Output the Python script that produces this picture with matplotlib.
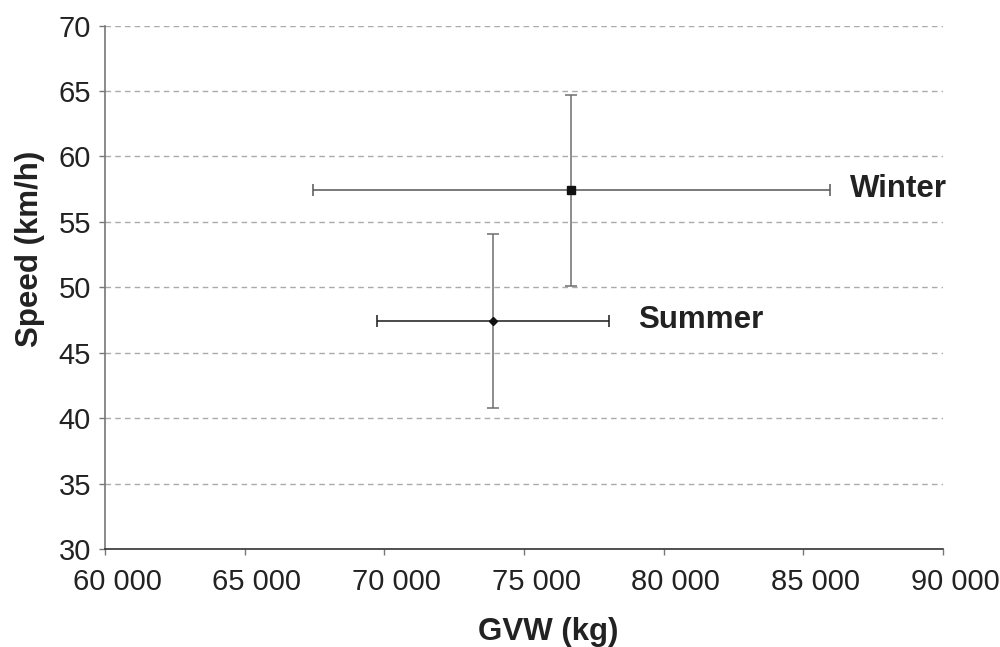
import matplotlib
matplotlib.use('Agg')
import matplotlib.pyplot as plt
from matplotlib.ticker import FuncFormatter
from matplotlib.transforms import ScaledTranslation

plt.rcParams['font.family'] = ['Liberation Sans', 'DejaVu Sans']

# season, mean GVW (kg), GVW spread, mean speed (km/h), speed spread
seasons = ['Winter', 'Summer']
gvw = [76700, 73900]
gvw_err = [9250, 4150]
speed = [57.4, 47.4]
speed_err = [7.3, 6.65]
markers = ['s', 'D']
marker_sizes = [6, 4.5]
h_colors = ['#555555', '#1a1a1a']

fig = plt.figure(figsize=(10, 6.47), dpi=100)
ax = fig.add_axes([0.105, 0.1515, 0.838, 0.8089])

for i, name in enumerate(seasons):
    # vertical bar grey, horizontal one as in the source chart
    ax.errorbar(gvw[i], speed[i], yerr=speed_err[i], fmt='none',
                ecolor='#6e6e6e', elinewidth=1.1, capsize=4, capthick=1.1)
    ax.errorbar(gvw[i], speed[i], xerr=gvw_err[i], fmt='none',
                ecolor=h_colors[i], elinewidth=1.1, capsize=4, capthick=1.1)
    ax.plot(gvw[i], speed[i], marker=markers[i], ms=marker_sizes[i],
            color='#111111', linestyle='none')

ax.text(gvw[0] + gvw_err[0] + 720, speed[0] - 0.48, seasons[0],
        fontsize=22.5, fontweight='bold', color='#222222', va='baseline')
ax.text(gvw[1] + gvw_err[1] + 1030, speed[1] - 0.5, seasons[1],
        fontsize=22.5, fontweight='bold', color='#222222', va='baseline')

ax.set_xlim(60000, 90000)
ax.set_ylim(30, 70)
ax.set_xticks(range(60000, 90001, 5000))
ax.set_yticks(range(30, 71, 5))
ax.xaxis.set_major_formatter(FuncFormatter(lambda v, p: f'{int(v):,}'.replace(',', ' ')))

ax.grid(axis='y', linestyle=(0, (4, 3)), color='#aaaaaa', linewidth=1)
ax.set_axisbelow(True)

for side in ['top', 'right']:
    ax.spines[side].set_visible(False)
ax.spines['left'].set_color('#777777')
ax.spines['bottom'].set_color('#333333')
ax.spines['left'].set_linewidth(1.2)
ax.spines['bottom'].set_linewidth(1.2)

ax.tick_params(axis='both', labelsize=21, labelcolor='#222222', length=4,
               width=1, direction='out', color='#777777')
ax.tick_params(axis='x', pad=10)
ax.tick_params(axis='y', pad=6)

# the x labels in the source sit a little right of their ticks
shift = ScaledTranslation(0.12, 0, fig.dpi_scale_trans)
for lbl in ax.get_xticklabels():
    lbl.set_transform(lbl.get_transform() + shift)

# axis titles sit off-centre in the source, so place them by hand
fig.text(0.548, 0.0232, 'GVW (kg)', fontsize=22.5, fontweight='bold',
         color='#222222', ha='center', va='center')
fig.text(0.030, 0.615, 'Speed (km/h)', fontsize=22.5, fontweight='bold',
         color='#222222', ha='center', va='center', rotation=90)

fig.savefig('out.png', dpi=100)
